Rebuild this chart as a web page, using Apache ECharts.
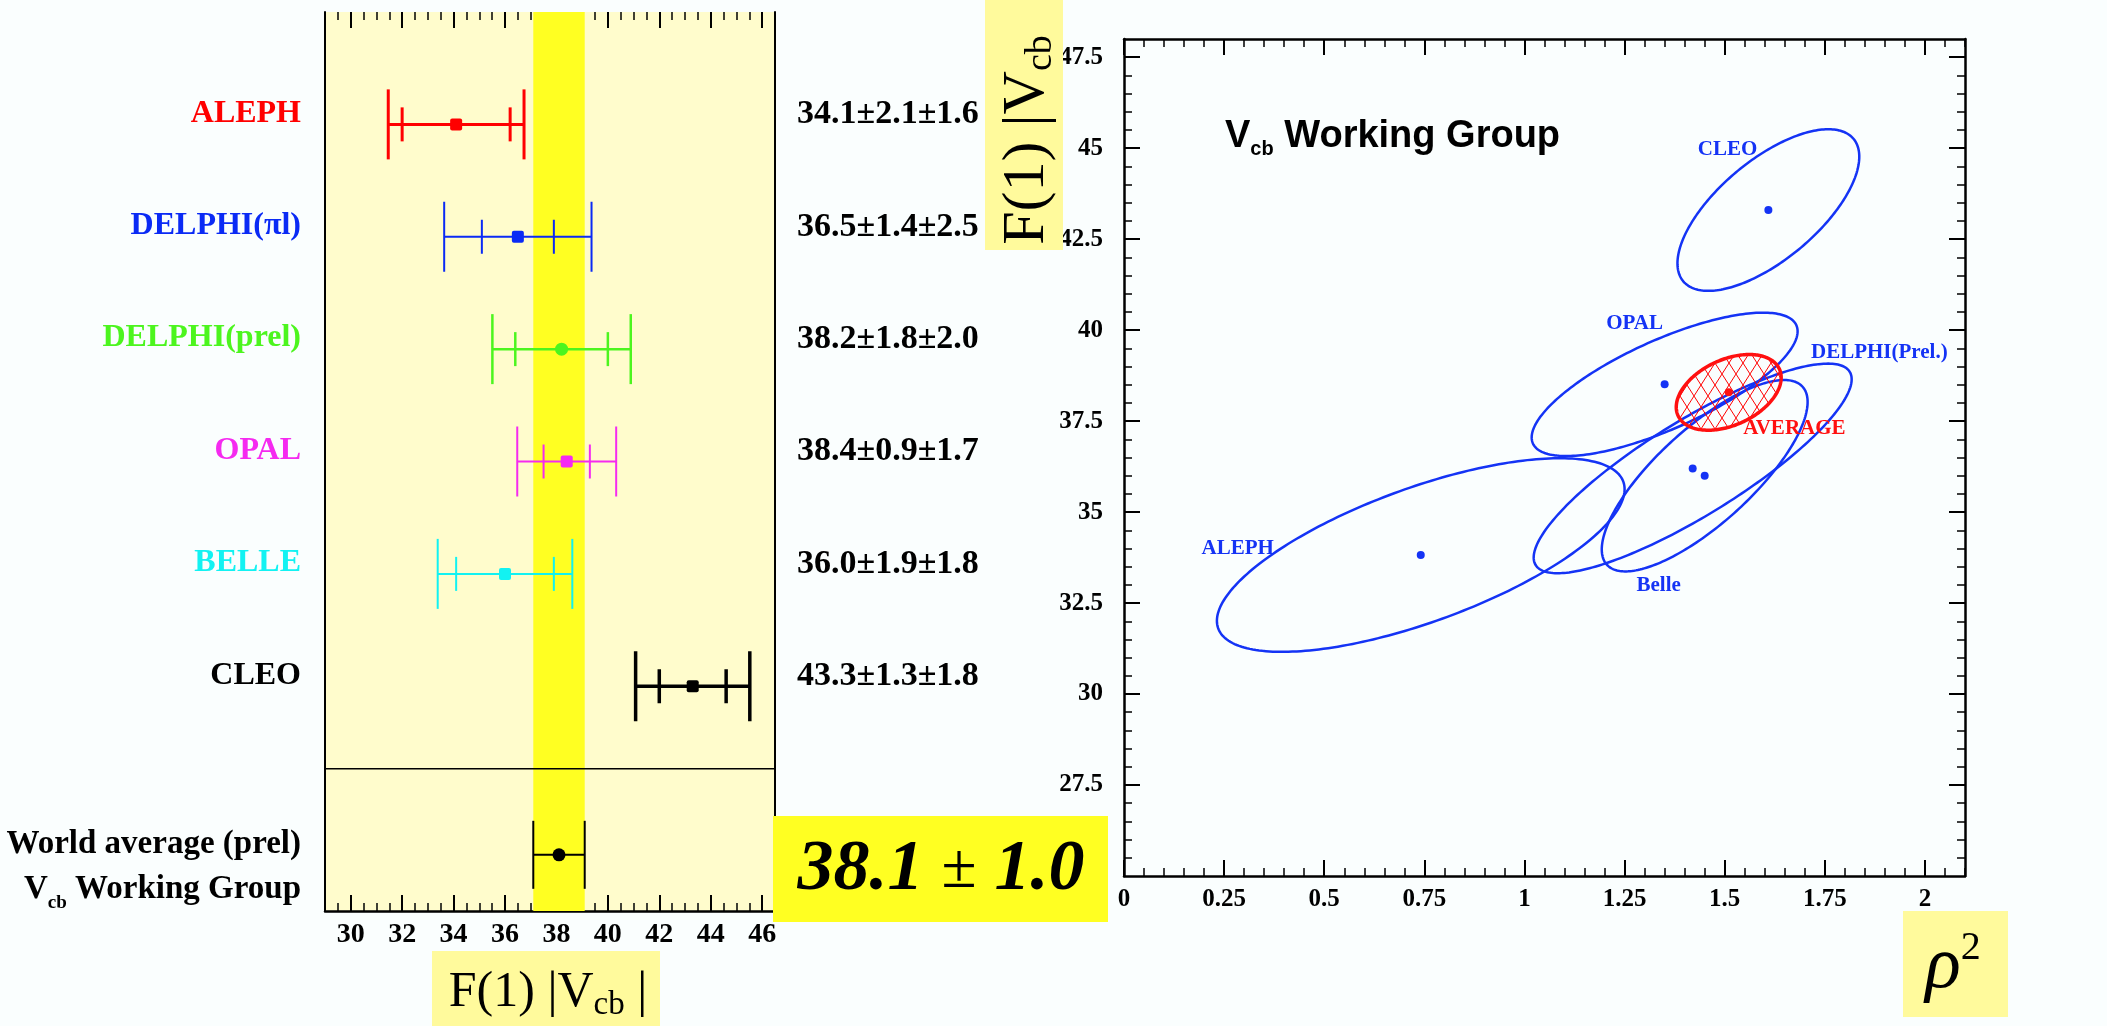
<!DOCTYPE html>
<html><head><meta charset="utf-8">
<script src="https://cdn.jsdelivr.net/npm/echarts@6/dist/echarts.min.js"></script>
<style>html,body{margin:0;padding:0;background:#fafefe;}#c{width:2107px;height:1026px;}</style>
</head><body><div id="c"></div><script>
// ---------- data ----------
const experiments = ['ALEPH', 'DELPHI(πl)', 'DELPHI(prel)', 'OPAL', 'BELLE', 'CLEO'];
const centralValues = [34.1, 36.5, 38.2, 38.4, 36.0, 43.3];
const statErrors = [2.1, 1.4, 1.8, 0.9, 1.9, 1.3];
const systErrors = [1.6, 2.5, 2.0, 1.7, 1.8, 1.8];
const valueTexts = ['34.1±2.1±1.6', '36.5±1.4±2.5', '38.2±1.8±2.0', '38.4±0.9±1.7', '36.0±1.9±1.8', '43.3±1.3±1.8'];
const rowPositions = [7, 6, 5, 4, 3, 2];
const worldAverage = 38.1;
const worldAverageError = 1.0;
const worldAverageRow = 0.5;
const separatorRow = 1.265;
const leftTicks = [30, 32, 34, 36, 38, 40, 42, 44, 46];
const rightXTicks = [0, 0.25, 0.5, 0.75, 1, 1.25, 1.5, 1.75, 2];
const rightYTicks = [27.5, 30, 32.5, 35, 37.5, 40, 42.5, 45, 47.5];
// ellipses in the (rho^2, F(1)|Vcb|) plane
const ellipseNames = ['ALEPH', 'CLEO', 'OPAL', 'DELPHI(Prel.)', 'Belle', 'AVERAGE'];
const ellipseRho2 = [0.741, 1.609, 1.35, 1.42, 1.45, 1.51];
const ellipseF = [33.82, 43.30, 38.51, 36.2, 36.0, 38.29];
const ellipseSigmaRho2 = [0.509, 0.227, 0.332, 0.397, 0.257, 0.131];
const ellipseSigmaF = [2.66, 2.22, 1.97, 2.88, 2.63, 1.04];
const ellipseCorr = [0.68, 0.66, 0.74, 0.85, 0.77, 0.39];

// ---------- helpers ----------
function steps(a, b, s) { const r = []; const n = Math.round((b - a) / s); for (let k = 0; k <= n; k++) r.push(Math.round((a + k * s) * 1000) / 1000); return r; }
const leftMinor = steps(29.5, 46.5, 0.5);
const rightXMinor = steps(0.05, 2.1, 0.05);
const rightYMinor = steps(25.5, 47.5, 0.5);

const leftColors = ['#FF0000', '#0A2AF5', '#4CF51E', '#F52AF0', '#12F2F2', '#000000'];
const leftWidths = [3, 2, 2.5, 2, 2, 3.5];
const blue = '#1433F5';
const SERIF = 'Liberation Serif';

function hatch() {
  const c = document.createElement('canvas'); c.width = 14; c.height = 22;
  const g = c.getContext('2d'); g.strokeStyle = '#FF0000'; g.lineWidth = 1;
  g.beginPath(); g.moveTo(0, 0); g.lineTo(14, 22); g.moveTo(14, 0); g.lineTo(0, 22); g.stroke();
  return c;
}
const hatchCanvas = hatch();

function tickAxis(o) {
  return Object.assign({
    type: 'value', axisLine: { show: false, onZero: false }, splitLine: { show: false },
    axisLabel: { show: false }, axisTick: { show: true, inside: true, length: 8, lineStyle: { color: '#000', width: 1.5 } }
  }, o);
}

const chart = echarts.init(document.getElementById('c'), null, { renderer: 'canvas', width: 2107, height: 1026 });

const leftNameRich = {};
leftColors.forEach((c, i) => { leftNameRich['c' + i] = { color: c, fontSize: 32, fontWeight: 'bold', fontFamily: SERIF }; });

const option = {
  backgroundColor: '#fafefe',
  animation: false,
  grid: [
    { left: 325, top: 12, width: 450, height: 899, show: true, backgroundColor: '#FFFCCC', borderWidth: 0 },
    { left: 1124, top: 39, width: 841, height: 837, show: false }
  ],
  xAxis: [
    // left panel
    { type: 'value', gridIndex: 0, position: 'bottom', min: 29, max: 46.5,
      axisLine: { show: true, onZero: false, lineStyle: { color: '#000', width: 2.5 } },
      axisTick: { show: true, inside: true, length: 16, customValues: leftTicks, lineStyle: { color: '#000', width: 2 } },
      axisLabel: { show: true, customValues: leftTicks, color: '#000', fontSize: 28, fontWeight: 'bold', fontFamily: SERIF, margin: 10 },
      splitLine: { show: false } },
    tickAxis({ gridIndex: 0, position: 'bottom', min: 29, max: 46.5, axisTick: { show: true, inside: true, length: 8, customValues: leftMinor, lineStyle: { color: '#000', width: 1.5 } } }),
    tickAxis({ gridIndex: 0, position: 'top', min: 29, max: 46.5, axisTick: { show: true, inside: true, length: 16, customValues: leftTicks, lineStyle: { color: '#000', width: 2 } } }),
    tickAxis({ gridIndex: 0, position: 'top', min: 29, max: 46.5, axisTick: { show: true, inside: true, length: 8, customValues: leftMinor, lineStyle: { color: '#000', width: 1.5 } } }),
    // right panel
    { type: 'value', gridIndex: 1, position: 'bottom', min: 0, max: 2.1,
      axisLine: { show: true, onZero: false, lineStyle: { color: '#000', width: 2.5 } },
      axisTick: { show: true, inside: true, length: 16, customValues: rightXTicks, lineStyle: { color: '#000', width: 2 } },
      axisLabel: { show: true, customValues: rightXTicks, color: '#000', fontSize: 25, fontWeight: 'bold', fontFamily: SERIF, margin: 11 },
      splitLine: { show: false } },
    tickAxis({ gridIndex: 1, position: 'bottom', min: 0, max: 2.1, axisTick: { show: true, inside: true, length: 8, customValues: rightXMinor, lineStyle: { color: '#000', width: 1.5 } } }),
    tickAxis({ gridIndex: 1, position: 'top', min: 0, max: 2.1, axisLine: { show: true, onZero: false, lineStyle: { color: '#000', width: 2.5 } },
      axisTick: { show: true, inside: true, length: 16, customValues: rightXTicks, lineStyle: { color: '#000', width: 2 } } }),
    tickAxis({ gridIndex: 1, position: 'top', min: 0, max: 2.1, axisTick: { show: true, inside: true, length: 8, customValues: rightXMinor, lineStyle: { color: '#000', width: 1.5 } } })
  ],
  yAxis: [
    // left panel: experiment names
    { type: 'value', gridIndex: 0, position: 'left', min: 0, max: 8,
      axisLine: { show: true, onZero: false, lineStyle: { color: '#000', width: 2 } }, axisTick: { show: false }, splitLine: { show: false },
      axisLabel: { show: true, customValues: rowPositions, margin: 24, padding: [0, 0, 22, 0],
        formatter: v => { const i = rowPositions.indexOf(v); return '{c' + i + '|' + experiments[i] + '}'; }, rich: leftNameRich } },
    // left panel: right border
    { type: 'value', gridIndex: 0, position: 'right', min: 0, max: 8,
      axisLine: { show: true, onZero: false, lineStyle: { color: '#000', width: 2 } }, axisTick: { show: false }, splitLine: { show: false },
      axisLabel: { show: false } },
    // left panel: world average label
    { type: 'value', gridIndex: 0, position: 'left', min: 0, max: 8,
      axisLine: { show: false, onZero: false }, axisTick: { show: false }, splitLine: { show: false },
      axisLabel: { show: true, customValues: [worldAverageRow], margin: 24, padding: [25, 0, 0, 0],
        formatter: () => '{w|World average (prel)}\n{w|V}{ws|cb}{w| Working Group}',
        rich: { w: { color: '#000', fontSize: 33, fontWeight: 'bold', fontFamily: SERIF, lineHeight: 45 },
                ws: { color: '#000', fontSize: 19, fontWeight: 'bold', fontFamily: SERIF, lineHeight: 45, verticalAlign: 'bottom' } } } },
    // right panel
    { type: 'value', gridIndex: 1, position: 'left', min: 25, max: 48,
      axisLine: { show: true, onZero: false, lineStyle: { color: '#000', width: 2.5 } },
      axisTick: { show: true, inside: true, length: 16, customValues: rightYTicks, lineStyle: { color: '#000', width: 2 } },
      axisLabel: { show: true, customValues: rightYTicks, color: '#000', fontSize: 25, fontWeight: 'bold', fontFamily: SERIF, margin: 21 },
      splitLine: { show: false } },
    tickAxis({ gridIndex: 1, position: 'left', min: 25, max: 48, axisTick: { show: true, inside: true, length: 8, customValues: rightYMinor, lineStyle: { color: '#000', width: 1.5 } } }),
    tickAxis({ gridIndex: 1, position: 'right', min: 25, max: 48, axisLine: { show: true, onZero: false, lineStyle: { color: '#000', width: 2.5 } },
      axisTick: { show: true, inside: true, length: 16, customValues: rightYTicks, lineStyle: { color: '#000', width: 2 } } }),
    tickAxis({ gridIndex: 1, position: 'right', min: 25, max: 48, axisTick: { show: true, inside: true, length: 8, customValues: rightYMinor, lineStyle: { color: '#000', width: 1.5 } } })
  ],
  series: [
    // world-average band + separator
    { type: 'custom', xAxisIndex: 0, yAxisIndex: 0, z: 1, silent: true,
      data: [[worldAverage, worldAverageError, separatorRow]],
      renderItem: (params, api) => {
        const cs = params.coordSys;
        const a = api.coord([api.value(0) - api.value(1), 0]);
        const b = api.coord([api.value(0) + api.value(1), 0]);
        const s = api.coord([29, api.value(2)]);
        return { type: 'group', children: [
          { type: 'rect', shape: { x: a[0], y: cs.y, width: b[0] - a[0], height: cs.height }, style: { fill: '#FFFF22' } },
          { type: 'line', shape: { x1: cs.x, y1: s[1], x2: cs.x + cs.width, y2: s[1] }, style: { stroke: '#000', lineWidth: 1.5 } }
        ] };
      } },
    // measurements
    { type: 'custom', xAxisIndex: 0, yAxisIndex: 0, z: 3, silent: true,
      data: experiments.map((n, i) => [centralValues[i], statErrors[i], systErrors[i], rowPositions[i], i]),
      renderItem: (params, api) => {
        const v = api.value(0), st = api.value(1), sy = api.value(2), r = api.value(3), i = api.value(4);
        const tot = Math.sqrt(st * st + sy * sy);
        const c = api.coord([v, r]);
        const lo = api.coord([v - tot, r])[0], hi = api.coord([v + tot, r])[0];
        const sl = api.coord([v - st, r])[0], sh = api.coord([v + st, r])[0];
        const col = leftColors[i], lw = leftWidths[i];
        const st2 = { stroke: col, lineWidth: lw };
        const ln = (x1, y1, x2, y2) => ({ type: 'line', shape: { x1, y1, x2, y2 }, style: st2 });
        const round = (i === 2);
        const cs = params.coordSys;
        return { type: 'group', children: [
          ln(lo, c[1], hi, c[1]),
          ln(lo, c[1] - 35, lo, c[1] + 35), ln(hi, c[1] - 35, hi, c[1] + 35),
          ln(sl, c[1] - 17, sl, c[1] + 17), ln(sh, c[1] - 17, sh, c[1] + 17),
          round ? { type: 'circle', shape: { cx: c[0], cy: c[1], r: 6.5 }, style: { fill: col } }
                : { type: 'rect', shape: { x: c[0] - 6, y: c[1] - 6, width: 12, height: 12, r: 2 }, style: { fill: col } },
          // value text to the right of the panel
          { type: 'text', x: cs.x + cs.width + 22, y: c[1] - 10,
            style: { text: valueTexts[i], fill: '#000', font: 'bold 34px "Liberation Serif"', align: 'left', verticalAlign: 'middle' } }
        ] };
      } },
    // world average point
    { type: 'custom', xAxisIndex: 0, yAxisIndex: 0, z: 3, silent: true,
      data: [[worldAverage, worldAverageError, worldAverageRow]],
      renderItem: (params, api) => {
        const v = api.value(0), e = api.value(1), r = api.value(2);
        const c = api.coord([v, r]);
        const lo = api.coord([v - e, r])[0], hi = api.coord([v + e, r])[0];
        const st = { stroke: '#000', lineWidth: 2 };
        return { type: 'group', children: [
          { type: 'line', shape: { x1: lo, y1: c[1], x2: hi, y2: c[1] }, style: st },
          { type: 'line', shape: { x1: lo, y1: c[1] - 34, x2: lo, y2: c[1] + 34 }, style: st },
          { type: 'line', shape: { x1: hi, y1: c[1] - 34, x2: hi, y2: c[1] + 34 }, style: st },
          { type: 'circle', shape: { cx: c[0], cy: c[1], r: 6.5 }, style: { fill: '#000' } }
        ] };
      } },
    // ellipses
    { type: 'custom', xAxisIndex: 4, yAxisIndex: 3, z: 3, silent: true,
      data: ellipseNames.map((n, i) => [ellipseRho2[i], ellipseF[i], ellipseSigmaRho2[i], ellipseSigmaF[i], ellipseCorr[i], i]),
      renderItem: (params, api) => {
        const cx = api.value(0), cy = api.value(1), sx = api.value(2), sy = api.value(3), r = api.value(4), i = api.value(5);
        const isAvg = ellipseNames[i] === 'AVERAGE';
        const pts = [];
        const N = 240, q = Math.sqrt(1 - r * r);
        for (let k = 0; k < N; k++) {
          const t = 2 * Math.PI * k / N;
          pts.push(api.coord([cx + sx * Math.cos(t), cy + sy * (r * Math.cos(t) + q * Math.sin(t))]));
        }
        const col = isAvg ? '#FF1010' : blue;
        const c = api.coord([cx, cy]);
        return { type: 'group', children: [
          { type: 'polygon', shape: { points: pts },
            style: { fill: isAvg ? { image: hatchCanvas, repeat: 'repeat' } : 'none', stroke: col, lineWidth: isAvg ? 3.5 : 2.5 } },
          { type: 'circle', shape: { cx: c[0], cy: c[1], r: 4 }, style: { fill: col } }
        ] };
      } },
    // ellipse labels
    { type: 'custom', xAxisIndex: 4, yAxisIndex: 3, z: 4, silent: true,
      data: [
        [0.284, 33.99, 0], [1.507, 44.97, 1], [1.275, 40.18, 2], [1.886, 39.38, 3], [1.335, 32.97, 4], [1.674, 37.30, 5]
      ],
      renderItem: (params, api) => {
        const p = api.coord([api.value(0), api.value(1)]);
        const i = api.value(2);
        return { type: 'text', x: p[0], y: p[1],
          style: { text: ellipseNames[i], fill: ellipseNames[i] === 'AVERAGE' ? '#FF1010' : blue,
            font: 'bold 21px "Liberation Serif"', align: 'center', verticalAlign: 'middle' } };
      } }
  ],
  graphic: [
    // 38.1 ± 1.0 box
    { type: 'rect', z: 100, shape: { x: 773, y: 816, width: 335, height: 106 }, style: { fill: '#FFFF22' } },
    { type: 'text', z: 101, x: 941, y: 870,
      style: { text: '{n|38.1 }{p|±}{n| 1.0}', align: 'center', verticalAlign: 'middle',
        rich: { n: { fontSize: 72, fontStyle: 'italic', fontWeight: 'bold', fontFamily: SERIF, fill: '#000', color: '#000' },
                p: { fontSize: 64, fontFamily: SERIF, fill: '#000', color: '#000' } } } },
    // F(1)|Vcb| under left panel
    { type: 'rect', z: 100, shape: { x: 432, y: 951, width: 228, height: 80 }, style: { fill: '#FFFA9C' } },
    { type: 'text', z: 101, x: 548, y: 993,
      style: { text: '{m|F(1) |V}{s|cb}{m| |}', align: 'center', verticalAlign: 'middle',
        rich: { m: { fontSize: 50, fontFamily: SERIF, fill: '#000', color: '#000', lineHeight: 58 },
                s: { fontSize: 33, fontFamily: SERIF, fill: '#000', color: '#000', lineHeight: 58, verticalAlign: 'bottom' } } } },
    // rotated F(1)|Vcb on right panel
    { type: 'rect', z: 100, shape: { x: 985, y: 0, width: 78, height: 250 }, style: { fill: '#FFFA9C' } },
    { type: 'text', z: 101, x: 1027, y: 140, rotation: Math.PI / 2,
      style: { text: '{m|F(1) |V}{s|cb}', align: 'center', verticalAlign: 'middle',
        rich: { m: { fontSize: 60, fontFamily: SERIF, fill: '#000', color: '#000', lineHeight: 66 },
                s: { fontSize: 38, fontFamily: SERIF, fill: '#000', color: '#000', lineHeight: 66, verticalAlign: 'bottom' } } } },
    // rho^2 box
    { type: 'rect', z: 100, shape: { x: 1903, y: 911, width: 105, height: 106 }, style: { fill: '#FFFA9C' } },
    { type: 'text', z: 101, x: 1953, y: 968,
      style: { text: '{r|ρ}{t|2}', align: 'center', verticalAlign: 'middle',
        rich: { r: { fontSize: 74, fontStyle: 'italic', fontFamily: SERIF, fill: '#000', color: '#000', lineHeight: 80 },
                t: { fontSize: 40, fontFamily: SERIF, fill: '#000', color: '#000', lineHeight: 80, verticalAlign: 'top' } } } },
    // Vcb Working Group title
    { type: 'text', z: 101, x: 1225, y: 137,
      style: { text: '{v|V}{s|cb}{v| Working Group}', align: 'left', verticalAlign: 'middle',
        rich: { v: { fontSize: 38, fontWeight: 'bold', fontFamily: 'Liberation Sans', fill: '#000', color: '#000', lineHeight: 44 },
                s: { fontSize: 20, fontWeight: 'bold', fontFamily: 'Liberation Sans', fill: '#000', color: '#000', lineHeight: 44, verticalAlign: 'bottom' } } } }
  ]
};
chart.setOption(option);
</script></body></html>
